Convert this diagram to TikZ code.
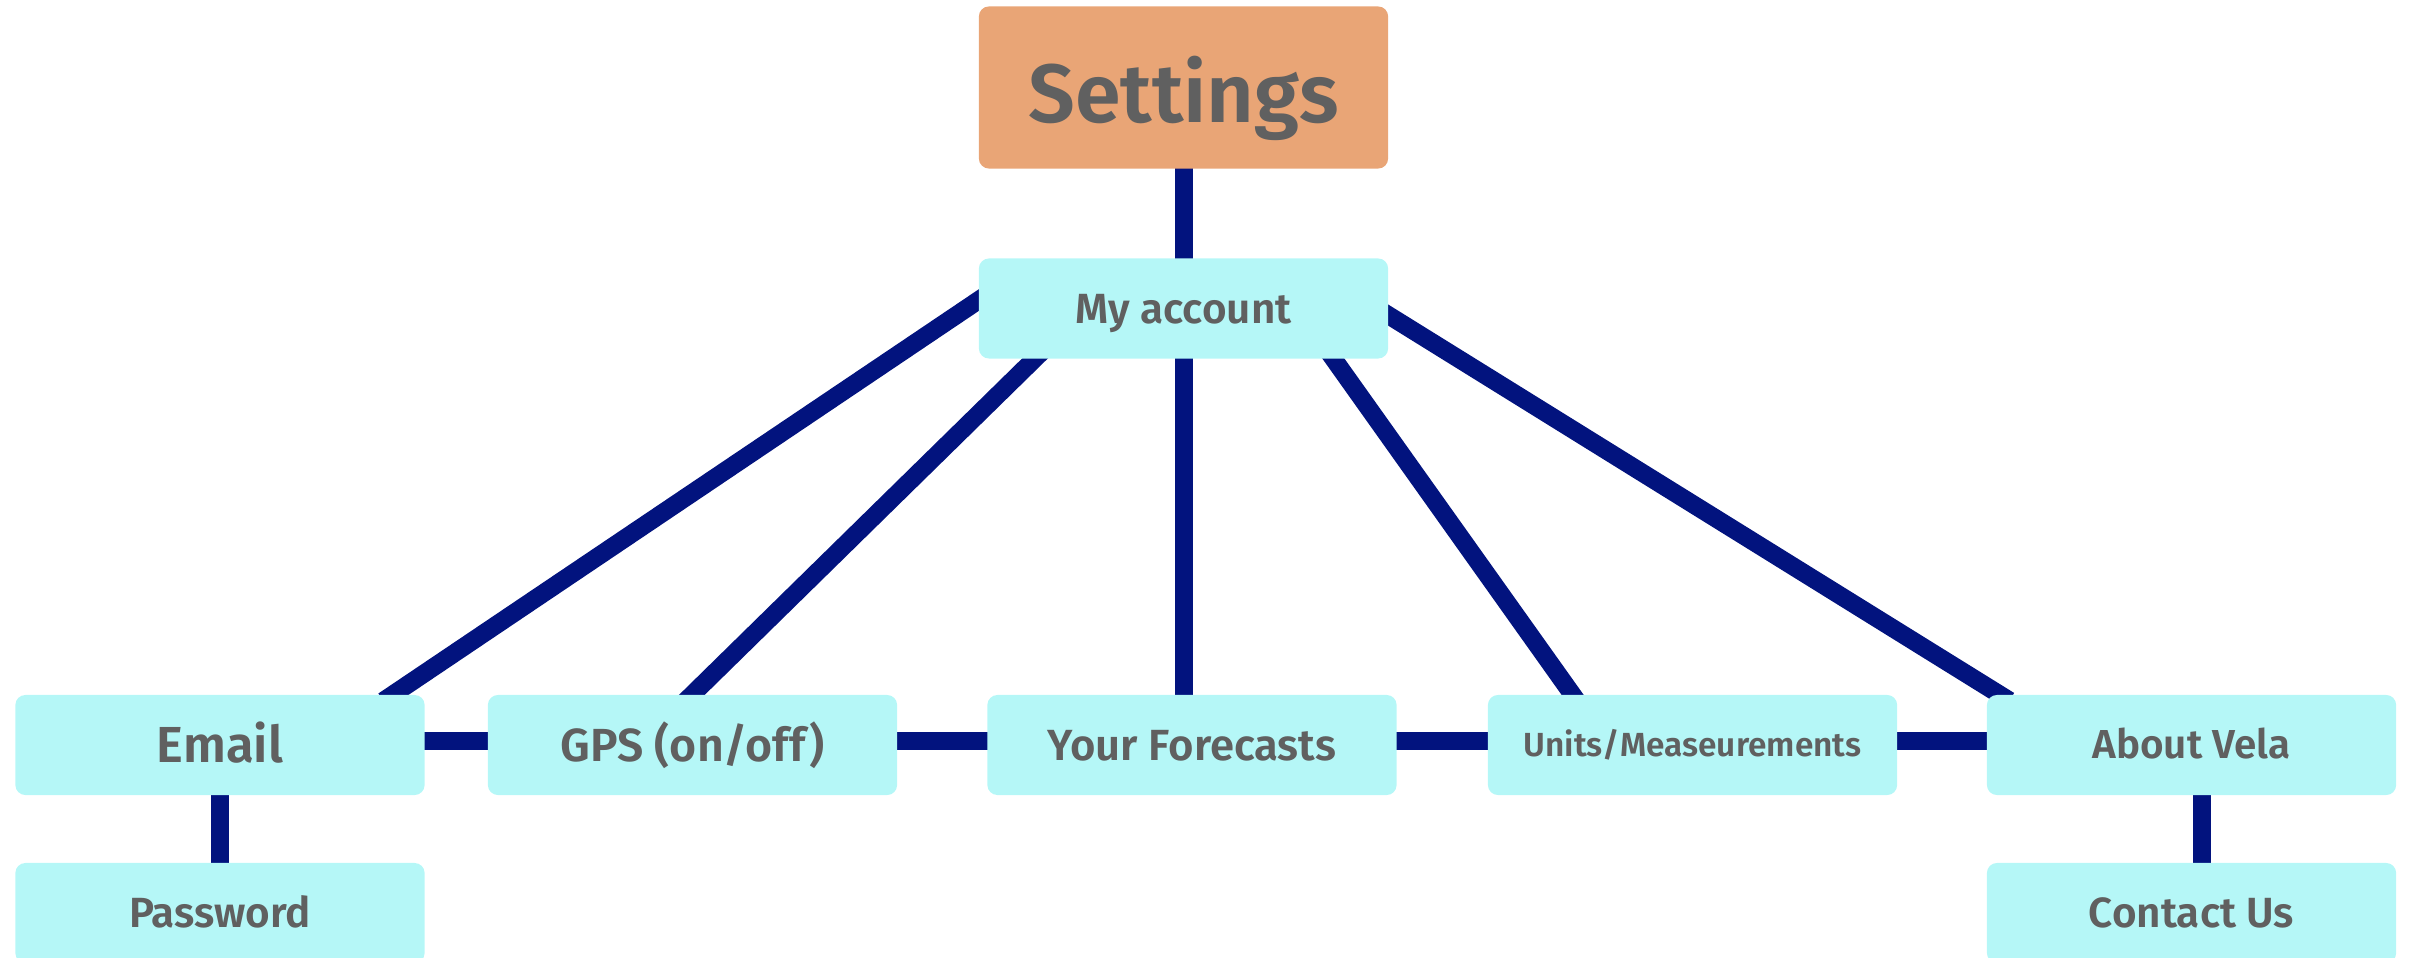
\documentclass[tikz,border=0pt]{standalone}
\usepackage{fontspec}
\setmainfont{Fira Sans}[BoldFont={Fira Sans SemiBold}]
\usetikzlibrary{calc,backgrounds}
\definecolor{boxcyan}{RGB}{181,247,247}
\definecolor{boxorange}{RGB}{233,165,118}
\definecolor{txtgrey}{RGB}{96,96,96}
\definecolor{linknavy}{RGB}{2,19,126}
\begin{document}
\begin{tikzpicture}[x=0.01cm,y=0.01cm,
    box/.style={rectangle,rounded corners=0.1cm,fill=boxcyan,text=txtgrey,
      minimum width=4.09cm,minimum height=1cm,inner sep=0pt,
      text height={0.69*#1pt},text depth=0pt,
      font=\bfseries\fontsize{#1}{#1}\selectfont},
    link/.style={draw=linknavy,line width=0.18cm,shorten <=-0.12cm,shorten >=-0.12cm}]
      \useasboundingbox (0,0) rectangle (2413,957);
      \draw
        (1183.5,869.5) node[box=23.5,fill=boxorange,minimum height=1.62cm,text height=0.69cm] (set){Settings}
        (1183.5,648.5) node[box=12] (acc){My account}
        (220,212) node[box=14.4] (email){Email}
        (692.5,212) node[box=13.2] (gps){GPS (on/off)}
        (1192,212) node[box=12.4] (fore){Your Forecasts}
        (1692.5,212) node[box=9.5] (units){Units/Measeurements}
        (2191.5,212) node[box=11.5] (about){About Vela}
        (220,44) node[box=12] (pass){Password}
        (2191.5,44) node[box=12] (contact){Contact Us};
      \begin{scope}[on background layer]
        \draw[link] (set) to (acc);
        \draw[link] ($(email.north east)+(-32,0)$) to ($(acc.west)+(0,8)$);
        \draw[link] (gps.north) to ($(acc.south west)+(56,0)$);
        \draw[link] (acc.south) to (acc.south |- fore.north);
        \draw[link] ($(acc.south east)+(-55,0)$) to ($(units.north west)+(85,0)$);
        \draw[link] ($(acc.east)+(0,-7)$) to ($(about.north west)+(13,0)$);
        \draw[link] ([yshift=0.04cm]email.east) to ([yshift=0.04cm]gps.west);
        \draw[link] ([yshift=0.04cm]gps.east) to ([yshift=0.04cm]fore.west);
        \draw[link] ([yshift=0.04cm]fore.east) to ([yshift=0.04cm]units.west);
        \draw[link] ([yshift=0.04cm]units.east) to ([yshift=0.04cm]about.west);
        \draw[link] (email) to (pass);
        \draw[link] ([xshift=0.1cm]about.south) to ([xshift=0.1cm]contact.north);
      \end{scope}
    \end{tikzpicture}
\end{document}
